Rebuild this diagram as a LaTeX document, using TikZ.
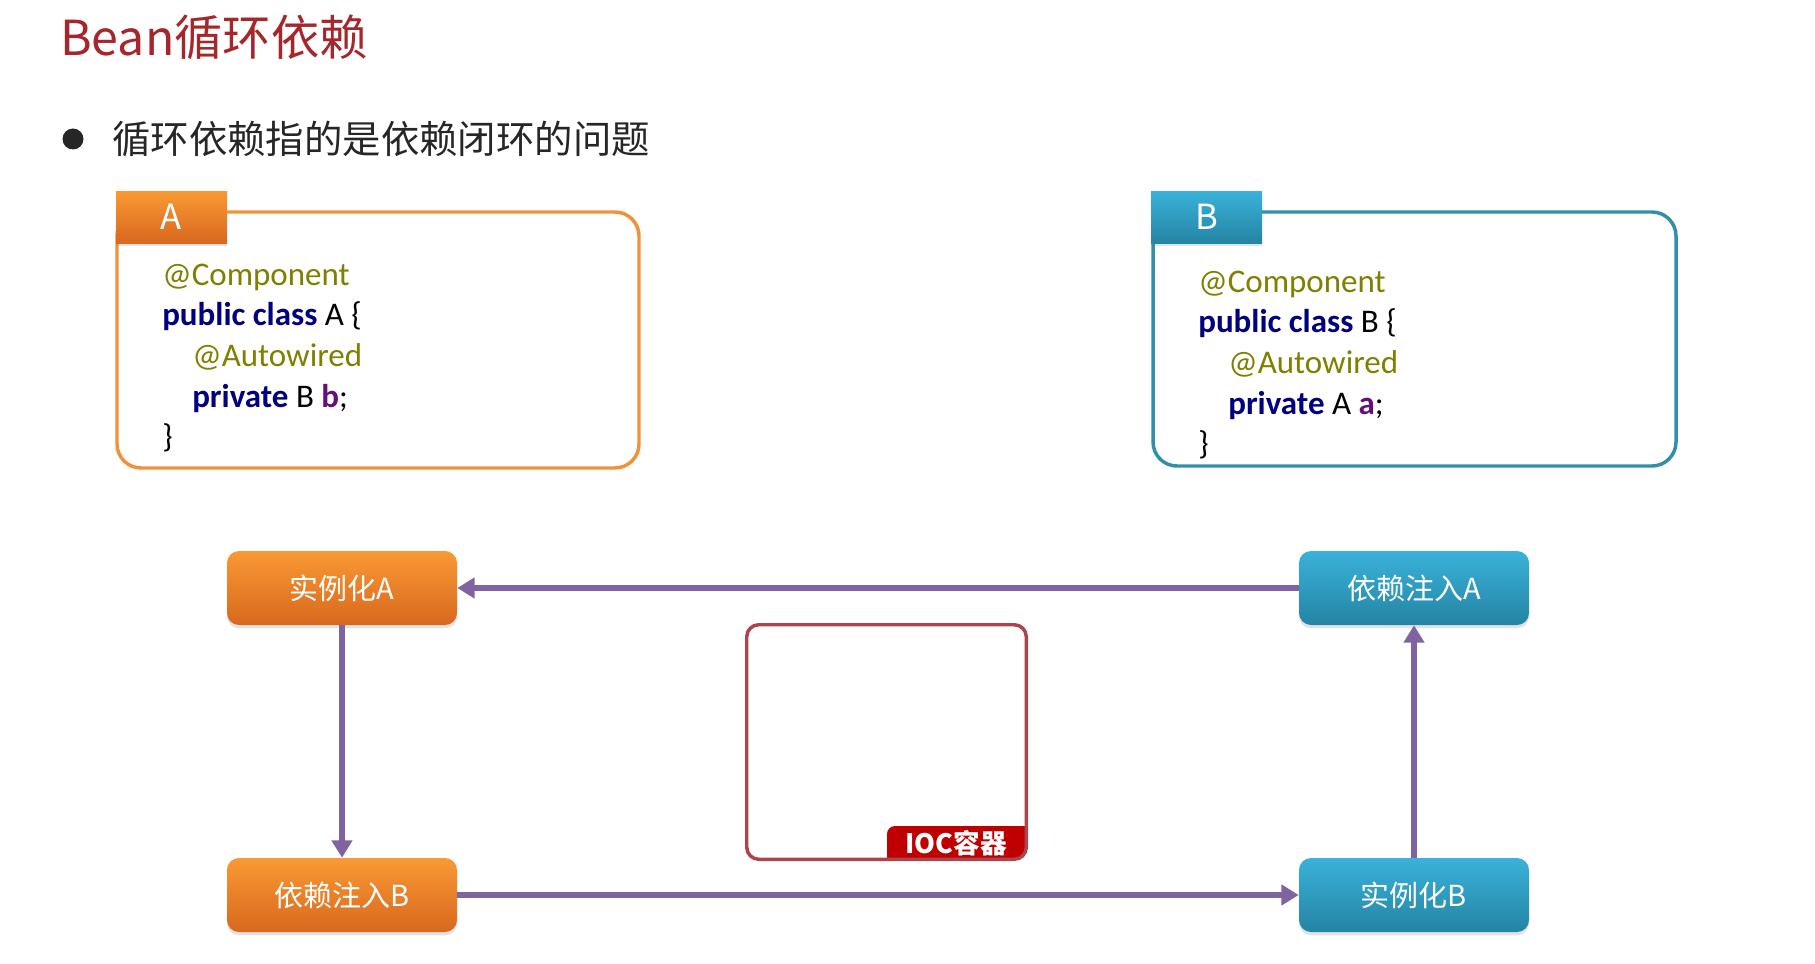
\documentclass[tikz,border=0pt]{standalone}
\usepackage{fontspec}
\setmainfont{Carlito}
\newfontfamily\cjk{Noto Sans CJK SC}
\usetikzlibrary{arrows.meta,shadows,calc}

\definecolor{titlered}{RGB}{165,38,43}
\definecolor{bodytext}{RGB}{38,38,38}
\definecolor{orangeline}{RGB}{240,146,58}
\definecolor{orangetop}{RGB}{249,153,52}
\definecolor{orangebot}{RGB}{216,104,30}
\definecolor{blueline}{RGB}{50,143,170}
\definecolor{bluetop}{RGB}{58,178,218}
\definecolor{bluebot}{RGB}{36,132,164}
\definecolor{flow}{RGB}{128,100,162}
\definecolor{iocline}{RGB}{172,68,76}
\definecolor{iocred}{RGB}{192,0,0}
\definecolor{annot}{RGB}{128,128,0}
\definecolor{kw}{RGB}{0,0,128}
\definecolor{field}{RGB}{102,14,122}

\newcommand\kwd[1]{\textcolor{kw}{\bfseries #1}}
\newcommand\fld[1]{\textcolor{field}{\bfseries #1}}
\newcommand\ann[1]{\textcolor{annot}{#1}}

\tikzset{
  softshadow/.style={drop shadow={opacity=0.22,shadow xshift=0pt,shadow yshift=-2.5pt}},
  frame/.style={draw,line width=2.6pt,rounded corners=18pt,inner sep=0pt},
  tab/.style={inner sep=0pt,minimum width=83.25pt,minimum height=39pt,text=white,
    font=\cjk\fontsize{26}{30}\selectfont,softshadow},
  codeline/.style={anchor=base west,inner sep=0pt,font=\fontsize{24.75}{30}\selectfont,text=black},
  stepbox/.style={rounded corners=9pt,minimum width=172.5pt,minimum height=55.5pt,
    inner sep=0pt,text=white,font=\cjk\fontsize{21.75}{26}\selectfont,softshadow},
  orangestep/.style={stepbox,top color=orangetop,bottom color=orangebot},
  bluestep/.style={stepbox,top color=bluetop,bottom color=bluebot},
  flowarrow/.style={draw=flow,line width=4.3pt,-{Triangle[width=15pt,length=13pt]}},
}

\begin{document}
\begin{tikzpicture}[x=0.75pt,y=-0.75pt]
  \useasboundingbox (0,0) rectangle (1815,963);
  \fill[white] (0,0) rectangle (1815,963);

  % heading and bullet line
  \node (title) [anchor=base west,inner sep=0pt,text=titlered,
    font=\cjk\fontsize{36.2}{42}\selectfont] at (60,56) {Bean循环依赖};
  \fill[bodytext] (73,139) circle[radius=10.5];
  \node (bullet) [anchor=west,inner sep=0pt,text=bodytext,
    font=\cjk\fontsize{28.8}{34}\selectfont] at (112,139) {循环依赖指的是依赖闭环的问题};

  % class A
  \node (frameA) [frame,draw=orangeline,minimum width=391.5pt,minimum height=192pt] at (378,340) {};
  \node (tabA) [tab,top color=orangetop,bottom color=orangebot] at (171.5,217) {A};
  \node (a1) [codeline] at (162,285) {\ann{@Component}};
  \node (a2) [codeline] at (162,325) {\kwd{public class} A \{};
  \node (a3) [codeline] at (192,366) {\ann{@Autowired}};
  \node (a4) [codeline] at (192,407) {\kwd{private} B \fld{b};};
  \node (a5) [codeline] at (162,447) {\}};

  % class B
  \node (frameB) [frame,draw=blueline,minimum width=392.25pt,minimum height=190.5pt] at (1414.5,339) {};
  \node (tabB) [tab,top color=bluetop,bottom color=bluebot] at (1206.5,217) {B};
  \node (b1) [codeline] at (1198,292) {\ann{@Component}};
  \node (b2) [codeline] at (1198,332) {\kwd{public class} B \{};
  \node (b3) [codeline] at (1228,373) {\ann{@Autowired}};
  \node (b4) [codeline] at (1228,414) {\kwd{private} A \fld{a};};
  \node (b5) [codeline] at (1198,454) {\}};

  % IOC container
  \node (ioc) [draw=none,minimum width=209.25pt,minimum height=175.5pt,inner sep=0pt] at (886.5,742) {};
  \begin{scope}
    \clip[rounded corners=9pt] (ioc.north west) rectangle (ioc.south east);
    \fill[iocred] (887,870) -- (887,834) arc[start angle=180,end angle=270,radius=8]
      -- (1040,826) -- (1040,870) -- cycle;
  \end{scope}
  \draw[iocline,line width=2.6pt,rounded corners=9pt] (ioc.north west) rectangle (ioc.south east);
  \node (ioclabel) [inner sep=0pt,text=white,font=\cjk\bfseries\fontsize{20}{24}\selectfont]
    at (956,843) {IOC容器};

  % creation steps
  \node (instA) [orangestep] at (342,588) {实例化A};
  \node (injB)  [orangestep] at (342,895) {依赖注入B};
  \node (injA)  [bluestep]   at (1414,588) {依赖注入A};
  \node (instB) [bluestep]   at (1414,895) {实例化B};

  \draw[flowarrow] (instA.south) -- (injB.north);
  \draw[flowarrow] (injB.east) -- (instB.west);
  \draw[flowarrow] (instB.north) -- (injA.south);
  \draw[flowarrow] (injA.west) -- (instA.east);
\end{tikzpicture}
\end{document}
